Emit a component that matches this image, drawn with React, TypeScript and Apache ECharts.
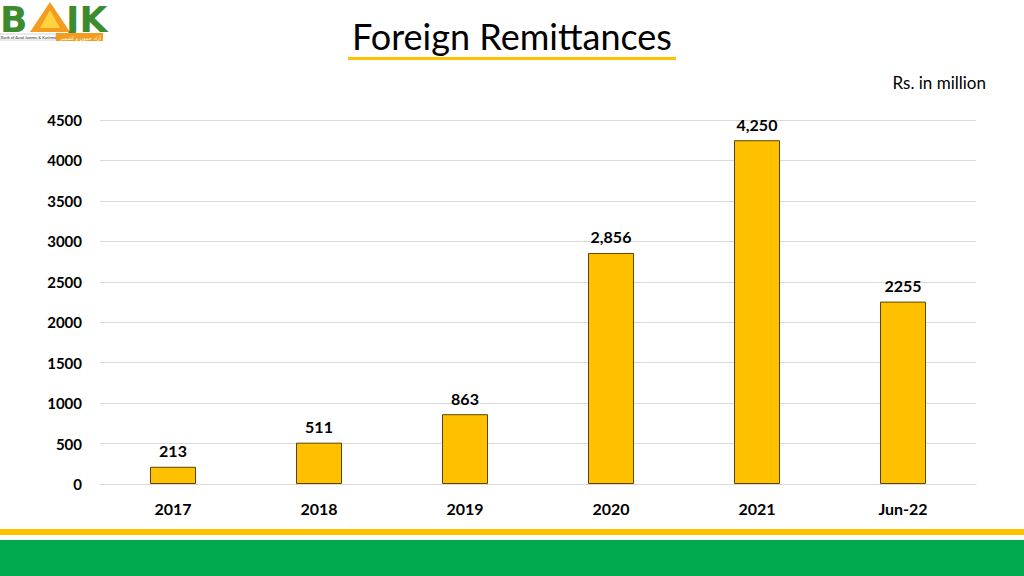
import React, { useEffect, useRef } from "react";
import * as echarts from "echarts";

const categories = ["2017", "2018", "2019", "2020", "2021", "Jun-22"];
const values = [213, 511, 863, 2856, 4250, 2255];
const valueLabels = ["213", "511", "863", "2,856", "4,250", "2255"];
const yTicks = { min: 0, max: 4500, interval: 500 };

const FONT = "Lato, 'Open Sans', sans-serif";

export default function App() {
  const ref = useRef<HTMLDivElement>(null);
  useEffect(() => {
    if (!ref.current) return;
    const chart = echarts.init(ref.current, null, { renderer: "svg" });
    chart.setOption({
      animation: false,
      backgroundColor: "#ffffff",
      grid: { left: 100, right: 48, top: 120, bottom: 92, containLabel: false },
      xAxis: {
        type: "category",
        data: categories,
        axisLine: { show: true, lineStyle: { color: "#d9d9d9" } },
        axisTick: { show: false },
        axisLabel: { color: "#000", fontSize: 16, fontWeight: "bold", fontFamily: FONT, margin: 16 },
      },
      yAxis: {
        type: "value",
        min: yTicks.min,
        max: yTicks.max,
        interval: yTicks.interval,
        axisLine: { show: false },
        axisTick: { show: false },
        splitLine: { lineStyle: { color: "#d9d9d9", width: 1 } },
        axisLabel: {
          color: "#000",
          fontSize: 15,
          fontWeight: "bold",
          fontFamily: FONT,
          margin: 18,
          formatter: (v: number) => String(v),
        },
      },
      series: [
        {
          type: "bar",
          data: values,
          barWidth: 46,
          itemStyle: { color: "#FFC000", borderColor: "#5a4500", borderWidth: 1 },
          label: {
            show: true,
            position: "top",
            distance: 8,
            color: "#000",
            fontSize: 16,
            fontWeight: "bold",
            fontFamily: FONT,
            formatter: (p: any) => valueLabels[p.dataIndex],
          },
        },
      ],
      graphic: [
        {
          type: "text",
          left: "center",
          top: 18,
          style: { text: "Foreign Remittances", fontSize: 36, fontFamily: FONT, fill: "#000" },
        },
        { type: "rect", shape: { x: 348, y: 57, width: 328, height: 3 }, style: { fill: "#FFC000" } },
        {
          type: "text",
          x: 986,
          y: 74,
          style: { text: "Rs. in million", fontSize: 17, fontFamily: FONT, fill: "#000", align: "right" },
        },
        // logo
        { type: "text", x: 0, y: 4, style: { text: "B", fontSize: 36, lineHeight: 30, fontWeight: "bold", fontFamily: "'DejaVu Sans'", fill: "#3d8b2f" } },
        { type: "polygon", shape: { points: [[50, 2], [30, 32], [70, 32]] }, style: { fill: "#f39c1f" } },
        { type: "polygon", shape: { points: [[50, 10], [40, 28], [60, 28]] }, style: { fill: "#ffd23f" } },
        { type: "text", x: 66, y: 4, style: { text: "JK", fontSize: 36, lineHeight: 30, fontWeight: "bold", fontFamily: "'DejaVu Sans'", fill: "#3d8b2f" } },
        { type: "rect", shape: { x: 0, y: 34, width: 56, height: 6 }, style: { fill: "#ffffff", stroke: "#aaaaaa", lineWidth: 0.5 } },
        { type: "text", x: 1, y: 35.5, style: { text: "Bank of Azad Jammu & Kashmir", fontSize: 4, lineHeight: 4, fontFamily: FONT, fill: "#333" } },
        { type: "rect", shape: { x: 56, y: 33, width: 47, height: 8 }, style: { fill: "#f39c1f" } },
        { type: "text", x: 60, y: 35, style: { text: "بینک آف آزاد جموں و کشمیر", fontSize: 5, lineHeight: 5, fontFamily: "'DejaVu Sans'", fill: "#fff" } },
        // bottom bands
        { type: "rect", shape: { x: 0, y: 529, width: 1024, height: 6 }, style: { fill: "#FFC000" } },
        { type: "rect", shape: { x: 0, y: 540, width: 1024, height: 36 }, style: { fill: "#00AB4E" } },
      ],
    });
    return () => chart.dispose();
  }, []);
  return <div ref={ref} style={{ position: "fixed", left: 0, top: 0, width: 1024, height: 576 }} />;
}
